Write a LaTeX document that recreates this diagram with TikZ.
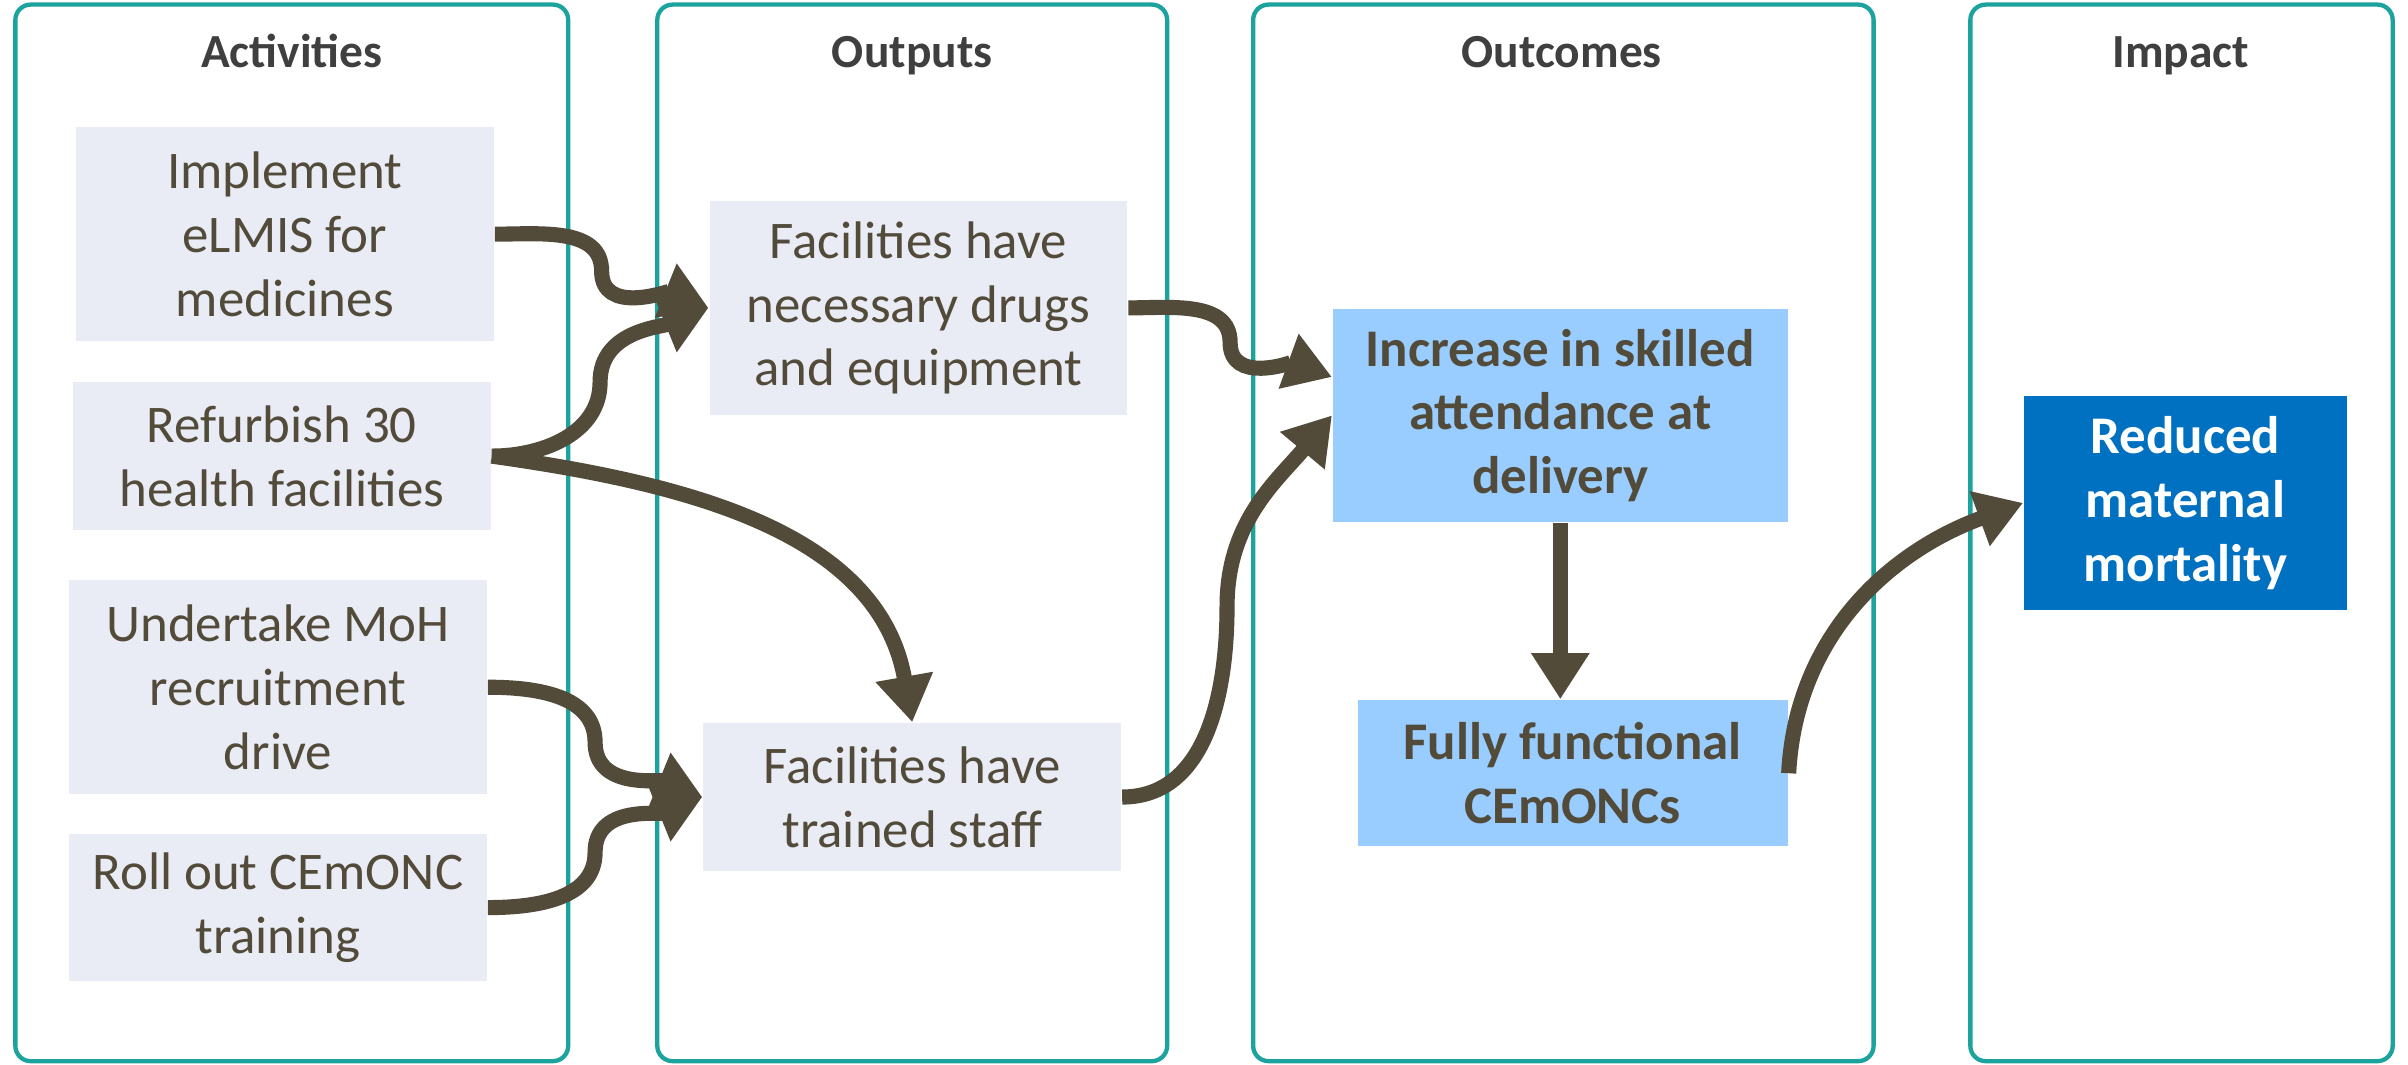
\documentclass[tikz,border=0pt]{standalone}
\usepackage{fontspec}
\setmainfont{Carlito}
\usetikzlibrary{arrows.meta,calc}

\definecolor{olivebrown}{HTML}{524B3A}
\definecolor{panelteal}{HTML}{1CA39D}
\definecolor{boxgrey}{HTML}{E9EBF5}
\definecolor{skyblue}{HTML}{99CCFF}
\definecolor{impactblue}{HTML}{0070C0}
\definecolor{headgrey}{HTML}{3F3F3F}

\tikzset{
  panel/.style={draw=panelteal, line width=0.8pt, rounded corners=1mm,
    minimum height=6.88cm, inner sep=0pt},
  head/.style={font=\fontsize{8.8}{10.6}\selectfont\bfseries, text=headgrey, anchor=base},
  box/.style={fill=boxgrey, text=olivebrown, align=center, inner sep=0pt,
    font=\fontsize{9.8}{11.8}\selectfont},
  goal/.style={box, fill=skyblue, font=\fontsize{9.8}{11.8}\selectfont\bfseries},
  flow/.style={draw=olivebrown, line width=2.8pt,
    -{Triangle[length=3mm,width=3.6mm]}}
}

\begin{document}
\begin{tikzpicture}

      \useasboundingbox (0,0) rectangle (15.68,6.93);

      % columns
      \begin{scope}[every node/.style={panel}]
        \node (pact) at (1.90,3.46)  [minimum width=3.60cm] {};
        \node (pout) at (5.94,3.46)  [minimum width=3.32cm] {};
        \node (pres) at (10.18,3.46) [minimum width=4.04cm] {};
        \node (pimp) at (14.205,3.46) [minimum width=2.75cm] {};
      \end{scope}

      \begin{scope}[every node/.style={head}]
        \node (hact) at (1.90,6.49)  {Activities};
        \node (hout) at (5.94,6.49)  {Outputs};
        \node (hres) at (10.17,6.49) {Outcomes};
        \node (himp) at (14.20,6.49) {Impact};
      \end{scope}

      % activities and outputs
      \begin{scope}[every node/.style={box, minimum width=2.72cm}]
        \node (a1) at (1.855,5.405) [minimum height=1.39cm] {Implement\\eLMIS for\\medicines};
        \node (a2) at (1.835,3.96)  [minimum height=0.96cm] {Refurbish 30\\health facilities};
        \node (a3) at (1.81,2.455)  [minimum height=1.39cm] {Undertake MoH\\recruitment\\drive};
        \node (a4) at (1.81,1.02)   [minimum height=0.96cm] {Roll out CEmONC\\training};
        \node (o1) at (5.98,4.925)  [minimum height=1.39cm] {Facilities have\\necessary drugs\\and equipment};
        \node (o2) at (5.94,1.74)   [minimum height=0.96cm] {Facilities have\\trained staff};
      \end{scope}

      % outcomes and impact
      \node[goal, minimum width=2.96cm, minimum height=1.39cm] (c1) at (10.16,4.225)
        {Increase in skilled\\attendance at\\delivery};
      \node[goal, minimum width=2.80cm, minimum height=0.95cm] (c2) at (10.24,1.895)
        {Fully functional\\CEmONCs};
      \node[goal, fill=impactblue, text=white, minimum width=2.10cm, minimum height=1.39cm]
        (i1) at (14.23,3.655) {Reduced\\maternal\\mortality};

      % bends of the s-shaped arrows
      \coordinate (c1in) at ([yshift=2.5mm]c1.west);
      \coordinate (k1) at ($(a1.east)!.5!(o1.west)$);
      \coordinate (k2) at ($(a2.east)!.5!(o1.west)$);
      \coordinate (k3) at ($(a3.east)!.5!(o2.west)$);
      \coordinate (k4) at ($(a4.east)!.5!(o2.west)$);
      \coordinate (k5) at ($(o1.east)!.5!(c1in)$);
      \coordinate (k6) at ($(o2.east)!.5!(c1.west)$);

      \begin{scope}[every edge/.style={flow}]
        \draw[flow] (a1.east) to[out=0, in=90] (k1) to[out=-90, in=158] (o1.west);
        \draw[flow] (a2.east) to[out=0, in=-90] (k2) to[out=90, in=202] (o1.west);
        \path (a2.east) edge[out=-8, in=100] (o2.north);
        \draw[flow] (a3.east) to[out=0, in=90] (k3) to[out=-90, in=158] (o2.west);
        \draw[flow] (a4.east) to[out=0, in=-90] (k4) to[out=90, in=202] (o2.west);
        \draw[flow] (o1.east) to[out=0, in=90] (k5) to[out=-90, in=160] (c1in);
        \draw[flow] (o2.east) to[out=0, in=-90] (k6) to[out=90, in=230] (c1.west);
        \path (c1.south) edge (c1.south |- c2.north);
        \path (c2.east) edge[out=87, in=200] (i1.west);
      \end{scope}

    \end{tikzpicture}
\end{document}
